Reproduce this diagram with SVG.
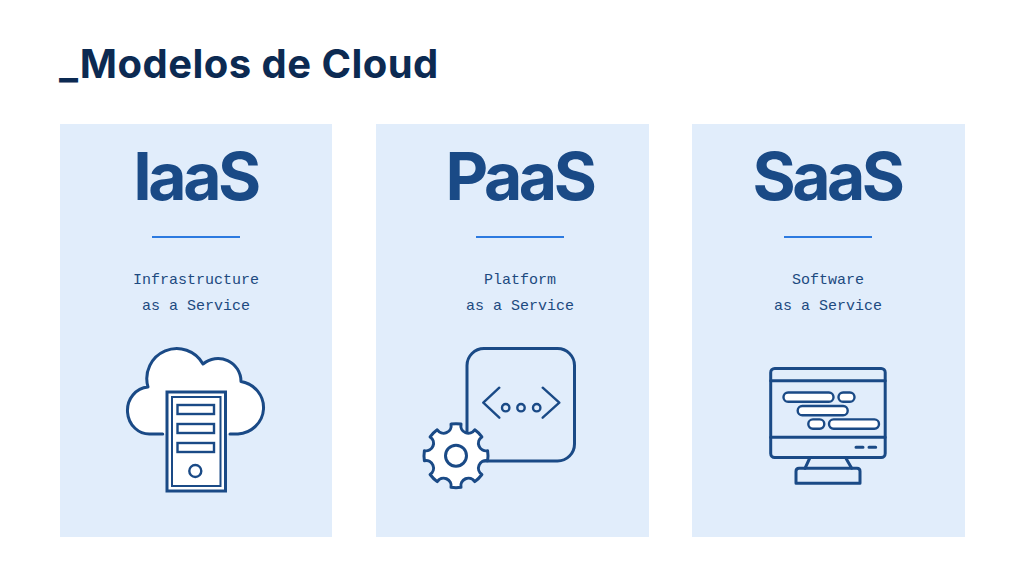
<svg xmlns="http://www.w3.org/2000/svg" width="1024" height="573" viewBox="0 0 1024 573">
<style>
.card{fill:#e1edfb}
.big{font-family:Inter,"Liberation Sans",sans-serif;font-weight:700;font-size:66px;fill:#1a4a86;text-anchor:middle;letter-spacing:-3.5px}
.sub{font-family:"Liberation Mono","DejaVu Sans Mono",monospace;font-size:15px;fill:#1d4a80;text-anchor:middle}
.rule{stroke:#2c7ae0;stroke-width:2;fill:none}
.ic{stroke:#1a4a86;stroke-width:3;fill:none;stroke-linecap:round;stroke-linejoin:round}
.w{fill:#fff}
.th{stroke-width:2.4}
</style>
<rect width="1024" height="573" fill="#fff"/>
<text x="59" y="78" font-family="Inter,'Liberation Sans',sans-serif" font-weight="700" font-size="40" letter-spacing="0.45" fill="#0c2a52">_Modelos de Cloud</text>
<g id="iaas">
<rect class="card" x="60" y="124" width="272" height="413"/>
<text class="big" x="195.500" y="199.500">IaaS</text>
<line class="rule" x1="152" y1="237" x2="240" y2="237"/>
<text class="sub" x="196" y="284">Infrastructure</text>
<text class="sub" x="196" y="310">as a Service</text>
<path class="ic w" d="M162.700 434H151A22 23.500 0 0 1 148 387A30 30 0 0 1 203 364A23 23 0 0 1 241 381.500A27.500 26.500 0 0 1 238 434H230"/>
<rect class="ic w" style="stroke-linecap:butt;stroke-linejoin:miter" x="167" y="392" width="58.500" height="99"/>
<rect class="ic th" style="stroke-linecap:butt;stroke-linejoin:miter;stroke-width:2" x="172" y="397" width="48.500" height="89"/>
<rect class="ic th w" style="stroke-linejoin:miter" x="177.500" y="405" width="36.500" height="9"/>
<rect class="ic th w" style="stroke-linejoin:miter" x="177.500" y="424" width="36.500" height="9"/>
<rect class="ic th w" style="stroke-linejoin:miter" x="177.500" y="443" width="36.500" height="9"/>
<circle class="ic th w" cx="195.300" cy="471" r="6"/>
</g>
<g id="paas">
<rect class="card" x="376" y="124" width="273" height="413"/>
<text class="big" x="519.500" y="199.500">PaaS</text>
<line class="rule" x1="476" y1="237" x2="564" y2="237"/>
<text class="sub" x="520" y="284">Platform</text>
<text class="sub" x="520" y="310">as a Service</text>
<rect class="ic" x="467" y="348.500" width="107.500" height="112.500" rx="17"/>
<path class="ic th" d="M499.300 387.700L483.300 402.700L499.300 417.700M542.700 387.700L559.300 402.700L542.700 417.700"/>
<circle class="ic th" cx="505.700" cy="407.700" r="3.700"/>
<circle class="ic th" cx="521" cy="407.700" r="3.700"/>
<circle class="ic th" cx="536.700" cy="407.700" r="3.700"/>
<g transform="translate(456 455.700)">
<path class="ic w" d="M-5-31.600A32 32 0 0 1 5-31.600A7.600 7.600 0 0 0 18.800-25.900A32 32 0 0 1 25.900-18.800A7.600 7.600 0 0 0 31.600-5A32 32 0 0 1 31.600 5A7.600 7.600 0 0 0 25.900 18.800A32 32 0 0 1 18.800 25.900A7.600 7.600 0 0 0 5 31.600A32 32 0 0 1-5 31.600A7.600 7.600 0 0 0-18.800 25.900A32 32 0 0 1-25.900 18.800A7.600 7.600 0 0 0-31.600 5A32 32 0 0 1-31.600-5A7.600 7.600 0 0 0-25.900-18.800A32 32 0 0 1-18.800-25.900A7.600 7.600 0 0 0-5-31.600Z"/>
<circle class="ic" cx="0" cy="0" r="10.500"/>
</g>
</g>
<g id="saas">
<rect class="card" x="692" y="124" width="273" height="413"/>
<text class="big" x="827" y="199.500">SaaS</text>
<line class="rule" x1="784" y1="237" x2="872" y2="237"/>
<text class="sub" x="828" y="284">Software</text>
<text class="sub" x="828" y="310">as a Service</text>
<rect class="ic" x="770.700" y="368.500" width="114.500" height="89" rx="4"/>
<path class="ic" d="M770.700 380.700H885.200M770.700 437.300H885.200M856 447.300H863M869 447.300H875.700M810 457.500L805 468.300M845.500 457.500L851.700 468.300"/>
<path class="ic" d="M799 468.300H857Q860 468.300 860 471.300V483.300H796V471.300Q796 468.300 799 468.300Z"/>
<rect class="ic th w" x="783.500" y="392.500" width="50" height="9.300" rx="4.600"/>
<rect class="ic th w" x="838.500" y="392.500" width="16" height="9.300" rx="4.600"/>
<rect class="ic th w" x="797.700" y="406" width="50" height="9.300" rx="4.600"/>
<rect class="ic th w" x="808.300" y="419.400" width="16" height="9.300" rx="4.600"/>
<rect class="ic th w" x="829" y="419.400" width="50" height="9.300" rx="4.600"/>
</g>
<g id="connectors"/>
</svg>
